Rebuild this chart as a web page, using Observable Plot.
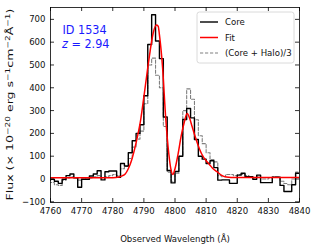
<!DOCTYPE html>
<html><head><meta charset="utf-8">
<script src="https://cdn.jsdelivr.net/npm/d3@7"></script>
<script src="https://cdn.jsdelivr.net/npm/@observablehq/plot@0.6"></script>
<style>body{margin:0;background:#fff} svg{display:block}</style>
</head><body><div id="chart"></div>
<script>
// Spectral bins (MUSE 1.25 Å grid); first bin centre just left of the plotted range
const binStart = 4759.375, binWidth = 1.25;
const coreFlux = [-5,
  -1,-10,-19,-1,15,22,5,-36,-1,-1,13,22,36,-4,32,35,35,7,68,57,
  115,168,200,238,365,590,720,605,528,272,37,-17,33,100,261,309,268,173,100,87,
  68,80,50,-5,-4,-4,-19,-19,17,25,10,10,-1,17,-16,-16,-16,8,8,-28,
  -55,-55,-25,25,
  25];
const halo3Flux = [-15,
  -15,-25,-28,-5,5,10,5,-5,5,0,5,10,15,5,10,15,20,15,45,55,
  90,140,175,210,330,500,530,455,400,230,30,-10,25,100,300,395,350,260,190,155,
  115,85,75,15,10,20,20,15,20,20,15,10,5,10,0,0,5,10,10,-10,
  -20,-25,0,30,
  30];
const fitWave = [4755,4780,4782,4783,4784,4785,4786,4787,4788,4789,4790,4791,4792,4793,4794,4794.6,4795,4796,4797,4798,4798.7,4799.3,4800,4801,4802,4803,4803.9,4804.7,4805.5,4806.5,4807.5,4808.5,4810,4811,4812,4813.5,4815,4816.5,4818,4845];
const fitFlux = [6,6,9,14,22,45,80,130,190,262,360,462,560,640,675,670,632,490,270,112,42,20,45,110,190,250,287,266,230,185,145,112,80,65,48,32,16,9,7,7];
const xTicks = [4760,4770,4780,4790,4800,4810,4820,4830,4840];
const yTicks = [-100,0,100,200,300,400,500,600,700];
const legendLabels = ["Core","Fit","(Core + Halo)/3"];
const idLabel = "ID 1534";
const zValue = "2.94";
const xLabel = "Observed Wavelength (Å)";
// y label pieces: [text, isSuperscript]
const yLabelParts = [["Flux (× 10", false], ["−20", true], [" erg s", false], ["−1", true], ["cm", false], ["−2", true], ["Å", false], ["−1", true], [")", false]];

const core = coreFlux.map((f, i) => ({x: binStart + binWidth * i, y: f}));
const halo = halo3Flux.map((f, i) => ({x: binStart + binWidth * i, y: f}));
const fit = fitWave.map((w, i) => ({x: w, y: fitFlux[i]}));

const W = 316, H = 245, mL = 50, mR = 17, mT = 7, mB = 43;
const fw = W - mL - mR, fh = H - mT - mB;
const font = "'DejaVu Sans Condensed', 'DejaVu Sans', sans-serif";

const svg = Plot.plot({
  width: W, height: H, marginLeft: mL, marginRight: mR, marginTop: mT, marginBottom: mB,
  style: {fontFamily: font, fontSize: "9.5px", color: "#111", background: "white", fontStretch: "condensed"},
  x: {domain: [4760, 4840]},
  y: {domain: [-103, 752]},
  marks: [
    Plot.line(halo, {x: "x", y: "y", curve: "step", stroke: "#808080", strokeWidth: 1.1, strokeDasharray: "3.2,1.8", clip: true}),
    Plot.line(core, {x: "x", y: "y", curve: "step", stroke: "black", strokeWidth: 1.4, clip: true}),
    Plot.line(fit, {x: "x", y: "y", curve: "monotone-x", stroke: "red", strokeWidth: 1.5, clip: true}),
    Plot.frame({stroke: "black", strokeWidth: 0.8}),
    Plot.tickX(xTicks, {x: d => d, insetTop: fh - 4, stroke: "black", strokeWidth: 0.8}),
    Plot.tickX(xTicks, {x: d => d, insetBottom: fh - 4, stroke: "black", strokeWidth: 0.8}),
    Plot.tickY(yTicks, {y: d => d, insetRight: fw - 4, stroke: "black", strokeWidth: 0.8}),
    Plot.tickY(yTicks, {y: d => d, insetLeft: fw - 4, stroke: "black", strokeWidth: 0.8}),
    Plot.axisX({ticks: xTicks, tickSize: 0, tickPadding: 5, label: null, tickFormat: "d"}),
    Plot.axisY({ticks: yTicks, tickSize: 0, tickPadding: 5, label: null, tickFormat: "d"}),
    Plot.text([xLabel], {frameAnchor: "bottom", dy: 39, fontSize: 9.5, fill: "#111"}),
    Plot.text([idLabel], {frameAnchor: "top-left", textAnchor: "start", dx: 12, dy: 18, fontSize: 12.5, fill: "#1a1aff"})
  ]
});
document.getElementById("chart").appendChild(svg);

const s = d3.select(svg);
// y-axis title with real superscripts
const yt = s.append("text").attr("transform", `translate(13,${mT + fh / 2}) rotate(-90)`)
  .attr("text-anchor", "middle").attr("font-family", font).attr("font-size", 9.5).attr("fill", "#111")
  .attr("textLength", 192).attr("lengthAdjust", "spacingAndGlyphs");
yLabelParts.forEach(([t, sup]) => {
  const ts = yt.append("tspan").text(t);
  if (sup) ts.attr("font-size", 6.8).attr("dy", -3.5);
  else ts.attr("dy", 0);
});
// restore baseline after each superscript
yt.selectAll("tspan").each(function(_, i) {
  const prevSup = i > 0 && yLabelParts[i - 1][1];
  if (!yLabelParts[i][1] && prevSup) d3.select(this).attr("dy", 3.5);
});

// redshift label with italic z
const zt = s.append("text").attr("x", mL + 12).attr("y", mT + 41).attr("text-anchor", "start")
  .attr("font-family", font).attr("font-size", 12.5).attr("fill", "#1a1aff");
zt.append("tspan").attr("font-style", "italic").text("z");
zt.append("tspan").text(" = " + zValue);

// legend
const lg = s.append("g").attr("font-family", font).attr("font-size", 9.5).attr("text-anchor", "start");
lg.append("rect").attr("x", 197).attr("y", 12).attr("width", 97).attr("height", 51)
  .attr("rx", 2.5).attr("fill", "white").attr("fill-opacity", 0.85).attr("stroke", "#d0d0d0").attr("stroke-width", 0.8);
const styles = [
  {stroke: "black", w: 1.4, dash: null},
  {stroke: "red", w: 1.5, dash: null},
  {stroke: "#808080", w: 1.1, dash: "3.2,1.8"}
];
legendLabels.forEach((t, i) => {
  const y = 22 + i * 15.5;
  const ln = lg.append("line").attr("x1", 200).attr("x2", 218).attr("y1", y).attr("y2", y)
    .attr("stroke", styles[i].stroke).attr("stroke-width", styles[i].w);
  if (styles[i].dash) ln.attr("stroke-dasharray", styles[i].dash);
  lg.append("text").attr("x", 225).attr("y", y).attr("dy", "0.35em").attr("fill", "#111").text(t);
});
</script>
</body></html>
